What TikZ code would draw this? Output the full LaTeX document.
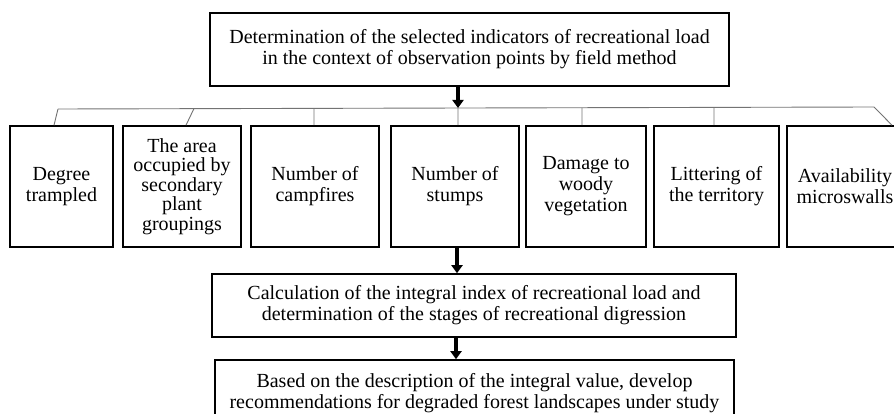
\documentclass[tikz,border=0pt]{standalone}
\usepackage{fontspec}
\setmainfont{Liberation Serif}
\usetikzlibrary{arrows.meta}

\begin{document}
\begin{tikzpicture}[x=1pt,y=-1pt,font=\fontsize{20}{21}\selectfont,
			box node/.style={draw,line width=1.6pt,align=center,inner sep=0pt,minimum height=121pt},
			wide node/.style={draw,line width=1.6pt,align=center,inner sep=0pt},
			bus line/.style={draw=black!55,line width=0.9pt},
			big arrow/.style={-{Triangle[width=11pt,length=8pt]},line width=3.6pt}]
			\useasboundingbox (0,0) rectangle (894,414);
			\clip (0,0) rectangle (894,414);
			\node[wide node, minimum width=519pt, minimum height=73pt] (top) at (469.5,49.5)
			{Determination of the selected indicators of recreational load\\in the context of observation points by field method};
			
			\node[box node, minimum width=103pt] (1) at (61.5,186.5) {Degree\\trampled};
			\node[box node, minimum width=118pt, font=\fontsize{20}{19.5}\selectfont] (2) at (182,186.5) {The area\\occupied by\\secondary\\plant\\groupings};
			\node[box node, minimum width=128pt] (3) at (315,186.5) {Number of\\campfires};
			\node[box node, minimum width=128pt] (4) at (455,186.5) {Number of\\stumps};
			\node[box node, minimum width=120pt] (5) at (586,186.5) {Damage to\\woody\\vegetation};
			\node[box node, minimum width=125pt] (6) at (716.5,186.5) {Littering of\\the territory};
			\node[box node, minimum width=116pt] (7) at (845,186.5) {Availability\\microswalls};
			
			\node[wide node, minimum width=524pt, minimum height=63pt] (calc) at (474,305.5)
			{Calculation of the integral index of recreational load and\\determination of the stages of recreational digression};
			\node[wide node, minimum width=519pt, minimum height=66pt] (rec) at (474.5,393)
			{Based on the description of the integral value, develop\\recommendations for degraded forest landscapes under study};
			
			% bus under the top box
			\coordinate (b1) at (58,109);
			\coordinate (b2) at (194,108.5);
			\coordinate (b3) at (314,108.5);
			\coordinate (b4) at (458,108);
			\coordinate (b5) at (582,108);
			\coordinate (b6) at (714,107.5);
			\coordinate (b7) at (874,107);
			\draw[bus line] (b1) -- (b7);
			\draw[bus line] (b1) -- ([xshift=-4pt]b1 |- 1.north)
			(b2) -- ([xshift=-8pt]b2 |- 2.north)
			(b3) -- (b3 |- 3.north)
			(b4) -- (b4 |- 4.north)
			(b5) -- (b5 |- 5.north)
			(b6) -- (b6 |- 6.north)
			(b7) -- ([xshift=18pt]b7 |- 7.north);
			
			\draw[big arrow] (top.south -| b4) -- (b4);
			\draw[big arrow] ([xshift=2pt]4.south) -- ([xshift=2pt]calc.north -| 4.south);
			\draw[big arrow] ([xshift=1pt]calc.south -| 4.south) -- ([xshift=1pt]rec.north -| 4.south);
		\end{tikzpicture}
\end{document}
